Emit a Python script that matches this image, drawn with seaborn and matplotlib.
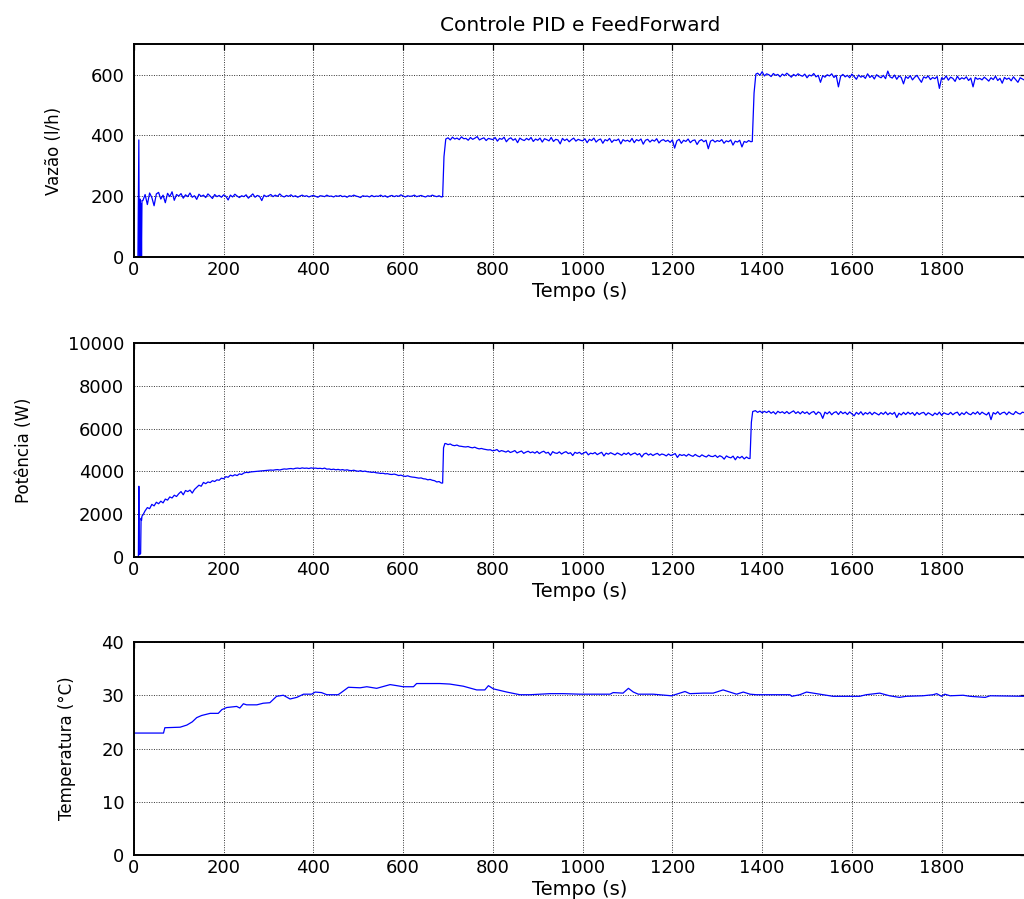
import numpy as np
import matplotlib
matplotlib.use("Agg")
import matplotlib.pyplot as plt
import seaborn as sns

# ---------------- data ----------------
# Vazão (l/h)
flow_start_t = [0, 9, 11, 12, 13, 14, 15, 16, 17, 18]
flow_start_v = [0, 0, 385, 0, 0, 190, 0, 175, 0, 185]
flow_a = [185, 205, 172, 210, 195, 168, 207, 212, 190, 203, 178, 209, 198, 214, 186, 205,
          200, 208, 193, 204, 198, 210, 196, 201, 189, 206, 199, 203, 195, 207, 200, 192, 205, 198, 202, 196,
          204, 199, 187, 203, 197, 206, 200, 195, 201, 198, 204, 193, 200, 207, 196, 202, 199, 185, 203, 198,
          201, 205, 198, 203, 199, 207, 200, 197, 202, 199, 204, 198, 201, 196, 200, 203, 199, 201, 197, 200,
          202, 199, 196, 201, 200, 198, 203, 199, 200, 197, 201, 199, 202, 198, 200, 196, 201, 199, 203, 200,
          198, 195, 201, 199, 200, 197, 202, 198, 200, 199, 203, 198, 201, 196, 200, 202, 198, 201, 199, 204,
          200, 197, 201, 199, 200, 203, 198, 200, 202, 199, 197, 201, 199, 203, 200, 198, 201, 197]
flow_step1_t = [688, 691, 695]
flow_step1_v = [198, 330, 388]
flow_b = [392, 385, 394, 388, 391, 386, 395, 389, 390, 384, 393, 387, 391, 396, 385, 389, 392, 383, 390, 388,
          386, 393, 381, 390, 387, 394, 379, 388, 392, 384, 389, 376, 391, 386, 383, 390, 385, 393, 380, 388,
          384, 391, 378, 389, 386, 382, 393, 380, 387, 385, 372, 390, 383, 388, 379, 386, 391, 381, 387, 384,
          382, 389, 376, 387, 383, 391, 378, 385, 388, 374, 386, 382, 390, 377, 385, 383, 388, 372, 386, 381,
          384, 379, 390, 376, 386, 382, 388, 371, 384, 387, 378, 385, 381, 389, 375, 383, 386, 380, 384, 377,
          385, 358, 382, 387, 374, 384, 380, 388, 376, 383, 385, 370, 382, 386, 379, 384, 356, 381, 385, 378,
          383, 380, 386, 374, 382, 379, 385, 368, 381, 378, 384, 362, 380, 377, 383, 379]
flow_step2_t = [1378, 1382, 1386]
flow_step2_v = [380, 540, 602]
flow_c = [605, 598, 610, 596, 603, 600, 594, 604, 598, 601, 593, 602, 597, 605, 599, 592, 601, 596, 603, 598,
          595, 602, 590, 599, 596, 604, 593, 598, 575, 597, 592, 600, 596, 603, 591, 598, 560, 595, 601, 593,
          598, 590, 602, 594, 585, 599, 592, 596, 588, 603, 591, 597, 586, 600, 594, 590, 598, 587, 612, 593,
          589, 599, 585, 596, 591, 570, 594, 588, 597, 583, 592, 598, 586, 575, 593, 589, 596, 584, 591, 587,
          594, 555, 590, 585, 596, 582, 592, 588, 578, 595, 584, 590, 586, 593, 581, 589, 560, 591, 585, 588,
          583, 592, 586, 579, 590, 584, 595, 581, 588, 572, 591, 585, 589, 580, 593, 584, 575, 590, 586, 582,
          589, 580, 591]

# Potência (W)
power_start_t = [0, 10, 11, 12, 13, 15, 16, 17, 18]
power_start_v = [0, 0, 3300, 100, 100, 150, 1800, 1700, 1900]
power_a = [1950, 2150, 2300, 2250, 2450, 2380, 2550, 2480, 2600, 2520, 2700, 2650, 2800, 2750, 2880, 2820, 2950, 3050, 2900, 3100,
           3050, 3120, 2980, 3150, 3250, 3350, 3300, 3480, 3420, 3500, 3470, 3560, 3520, 3600, 3580, 3680, 3650, 3750, 3720, 3820,
           3780, 3840, 3800, 3880, 3850, 3920, 3950, 3940, 3970, 3980, 3990, 4000, 4010, 4020, 4030, 4040, 4050, 4060, 4050, 4070,
           4080, 4060, 4090, 4110, 4100, 4120, 4130, 4110, 4140, 4150, 4130, 4160, 4140, 4150, 4130, 4160, 4140, 4150, 4130, 4140,
           4120, 4150, 4100, 4110, 4080, 4100, 4070, 4090, 4060, 4080, 4050, 4070, 4040, 4030, 4050, 4020, 4000, 4030, 3990, 4010,
           3980, 3970, 3950, 3960, 3930, 3920, 3900, 3910, 3880, 3890, 3860, 3850, 3870, 3840, 3800, 3820, 3780, 3760, 3790, 3750,
           3730, 3720, 3700, 3680, 3690, 3650, 3640, 3600, 3620, 3580, 3560, 3500, 3520, 3450]
power_step1_t = [688, 690, 693]
power_step1_v = [3450, 5100, 5300]
power_b = [5300, 5250, 5280, 5220, 5200, 5230, 5180, 5170, 5150, 5140, 5160, 5120, 5100, 5130, 5080, 5050, 5070, 5040, 5020, 5000,
           5010, 4960, 4980, 5020, 4920, 4970, 4940, 4900, 4960, 4880, 4920, 4970, 4860, 4910, 4950, 4840, 4900, 4940, 4870, 4910,
           4850, 4930, 4830, 4900, 4940, 4850, 4890, 4750, 4920, 4860, 4840, 4910, 4810, 4880, 4920, 4830, 4870, 4740, 4890, 4840,
           4890, 4800, 4860, 4910, 4770, 4850, 4820, 4880, 4780, 4840, 4890, 4720, 4850, 4800, 4870, 4820, 4770, 4860, 4810, 4750,
           4850, 4790, 4870, 4760, 4820, 4860, 4770, 4830, 4670, 4810, 4850, 4760, 4820, 4740, 4800, 4840, 4750, 4810, 4780, 4720,
           4810, 4740, 4780, 4830, 4650, 4790, 4740, 4780, 4710, 4800, 4740, 4700, 4790, 4720, 4680, 4770, 4710, 4670, 4760, 4700,
           4690, 4750, 4650, 4730, 4680, 4570, 4720, 4660, 4630, 4710, 4540, 4690, 4620, 4700, 4580, 4670, 4600]
power_step2_t = [1373, 1376, 1379]
power_step2_v = [4600, 6300, 6800]
power_c = [6840, 6760, 6820, 6740, 6810, 6750, 6820, 6720, 6790, 6680, 6810, 6740, 6790, 6710, 6800, 6700, 6770, 6830, 6710, 6790,
           6690, 6800, 6710, 6780, 6670, 6760, 6800, 6660, 6780, 6720, 6480, 6770, 6690, 6790, 6650, 6750, 6790, 6660, 6800, 6700,
           6770, 6660, 6780, 6690, 6600, 6760, 6670, 6790, 6640, 6750, 6680, 6770, 6650, 6760, 6700, 6640, 6750, 6670, 6780, 6650,
           6740, 6670, 6760, 6520, 6720, 6640, 6760, 6660, 6770, 6680, 6750, 6620, 6760, 6660, 6730, 6760, 6630, 6740, 6680, 6610,
           6730, 6650, 6770, 6620, 6740, 6690, 6660, 6760, 6650, 6730, 6770, 6620, 6740, 6660, 6780, 6690, 6650, 6760, 6680, 6790,
           6660, 6770, 6700, 6640, 6760, 6420, 6750, 6680, 6790, 6660, 6740, 6770, 6650, 6780, 6700, 6660, 6800, 6720, 6680, 6770,
           6740, 6480, 6780, 6690]

# Temperatura (°C)
temp_t = [0, 66, 69, 103, 118, 130, 140, 151, 170, 188, 196, 207, 229, 236, 244, 251, 274, 288, 303, 318,
          333, 348, 363, 378, 396, 404, 418, 430, 455, 462, 478, 504, 519, 541, 571, 586, 600, 623, 630, 682,
          704, 734, 764, 782, 790, 801, 831, 860, 883, 927, 957, 994, 1016, 1061, 1068, 1090, 1102, 1113, 1124, 1157,
          1198, 1228, 1239, 1269, 1291, 1313, 1328, 1343, 1358, 1373, 1387, 1462, 1466, 1484, 1499, 1521, 1536, 1558, 1617, 1632,
          1662, 1684, 1706, 1721, 1758, 1781, 1789, 1800, 1807, 1819, 1848, 1863, 1897, 1908, 1988]
temp_v = [22.9, 22.9, 23.9, 24.0, 24.4, 25.0, 25.8, 26.2, 26.6, 26.6, 27.3, 27.7, 27.9, 27.6, 28.4, 28.2, 28.2, 28.5, 28.6, 29.8,
          30.0, 29.3, 29.6, 30.2, 30.2, 30.6, 30.5, 30.1, 30.1, 30.5, 31.5, 31.4, 31.6, 31.3, 32.0, 31.8, 31.6, 31.6, 32.2, 32.2,
          32.1, 31.7, 31.0, 31.0, 31.8, 31.2, 30.6, 30.1, 30.1, 30.3, 30.3, 30.2, 30.2, 30.2, 30.5, 30.4, 31.3, 30.6, 30.2, 30.2,
          29.9, 30.7, 30.3, 30.4, 30.4, 31.0, 30.6, 30.2, 30.6, 30.2, 30.1, 30.1, 29.8, 30.1, 30.6, 30.3, 30.1, 29.8, 29.8, 30.1,
          30.4, 29.9, 29.6, 29.8, 29.9, 30.1, 30.3, 29.8, 30.2, 29.9, 30.0, 29.8, 29.6, 29.9, 29.8]

title = "Controle PID e FeedForward"
xlabel = "Tempo (s)"
ylabels = ["Vazão (l/h)", "Potência (W)", "Temperatura (°C)"]
xticks = [0, 200, 400, 600, 800, 1000, 1200, 1400, 1600, 1800]
yticks_list = [[0, 200, 400, 600], [0, 2000, 4000, 6000, 8000, 10000], [0, 10, 20, 30, 40]]
ylims = [(0, 700), (0, 10000), (0, 40)]
xlim = (0, 1988)


def assemble(st_t, st_v, a, s1_t, s1_v, b, s2_t, s2_v, c, a_rng, b_rng, c_rng):
    t = np.concatenate([st_t, np.linspace(*a_rng, len(a)), s1_t,
                        np.linspace(*b_rng, len(b)), s2_t, np.linspace(*c_rng, len(c))])
    v = np.concatenate([st_v, a, s1_v, b, s2_v, c])
    return t, v


flow_t, flow_v = assemble(flow_start_t, flow_start_v, flow_a, flow_step1_t, flow_step1_v, flow_b,
                          flow_step2_t, flow_step2_v, flow_c, (20, 685), (700, 1375), (1390, 2000))
power_t, power_v = assemble(power_start_t, power_start_v, power_a, power_step1_t, power_step1_v, power_b,
                            power_step2_t, power_step2_v, power_c, (20, 685), (695, 1370), (1385, 2000))

series = [(flow_t, flow_v), (power_t, power_v), (np.array(temp_t), np.array(temp_v))]

# ---------------- style ----------------
sns.set_theme(style="white")
plt.rcParams["font.family"] = ["DejaVu Sans"]
plt.rcParams["text.color"] = "black"
plt.rcParams["axes.labelcolor"] = "black"
plt.rcParams["xtick.color"] = "black"
plt.rcParams["ytick.color"] = "black"

fig = plt.figure(figsize=(10.24, 8.99), dpi=100)
W, H = 1024, 899
left_px, right_px = 133.9, 1026.0
boxes = [(44.4, 256.7), (343.2, 556.7), (642.0, 855.0)]
label_x = [-0.0797, -0.1134, -0.0651]

for i, ((top, bot), (tx, vy)) in enumerate(zip(boxes, series)):
    ax = fig.add_axes([left_px / W, 1 - bot / H, (right_px - left_px) / W, (bot - top) / H])
    sns.lineplot(x=tx, y=vy, ax=ax, color="#0000ff", linewidth=0.9,
                 estimator=None, sort=False, legend=False)
    ax.set_xlim(*xlim)
    ax.set_ylim(*ylims[i])
    ax.set_xticks(xticks)
    ax.set_yticks(yticks_list[i])
    ax.grid(True, color="#333333", linestyle=(0, (1, 1.5)), linewidth=0.7)
    for s in ax.spines.values():
        s.set_color("black")
        s.set_linewidth(1.4)
    ax.tick_params(axis="both", direction="in", length=4, width=0.9, colors="black",
                   top=True, right=True, labelsize=13)
    ax.tick_params(axis="x", pad=3)
    ax.tick_params(axis="y", pad=7)
    ax.set_xlabel(xlabel, fontsize=14, labelpad=2)
    ax.set_ylabel(ylabels[i], fontsize=12, color="black")
    ax.yaxis.set_label_coords(label_x[i], 0.5)
    if i == 0:
        ax.set_title(title, fontsize=14.5, pad=10, color="black")

fig.savefig("out.png", dpi=100, facecolor="white")
